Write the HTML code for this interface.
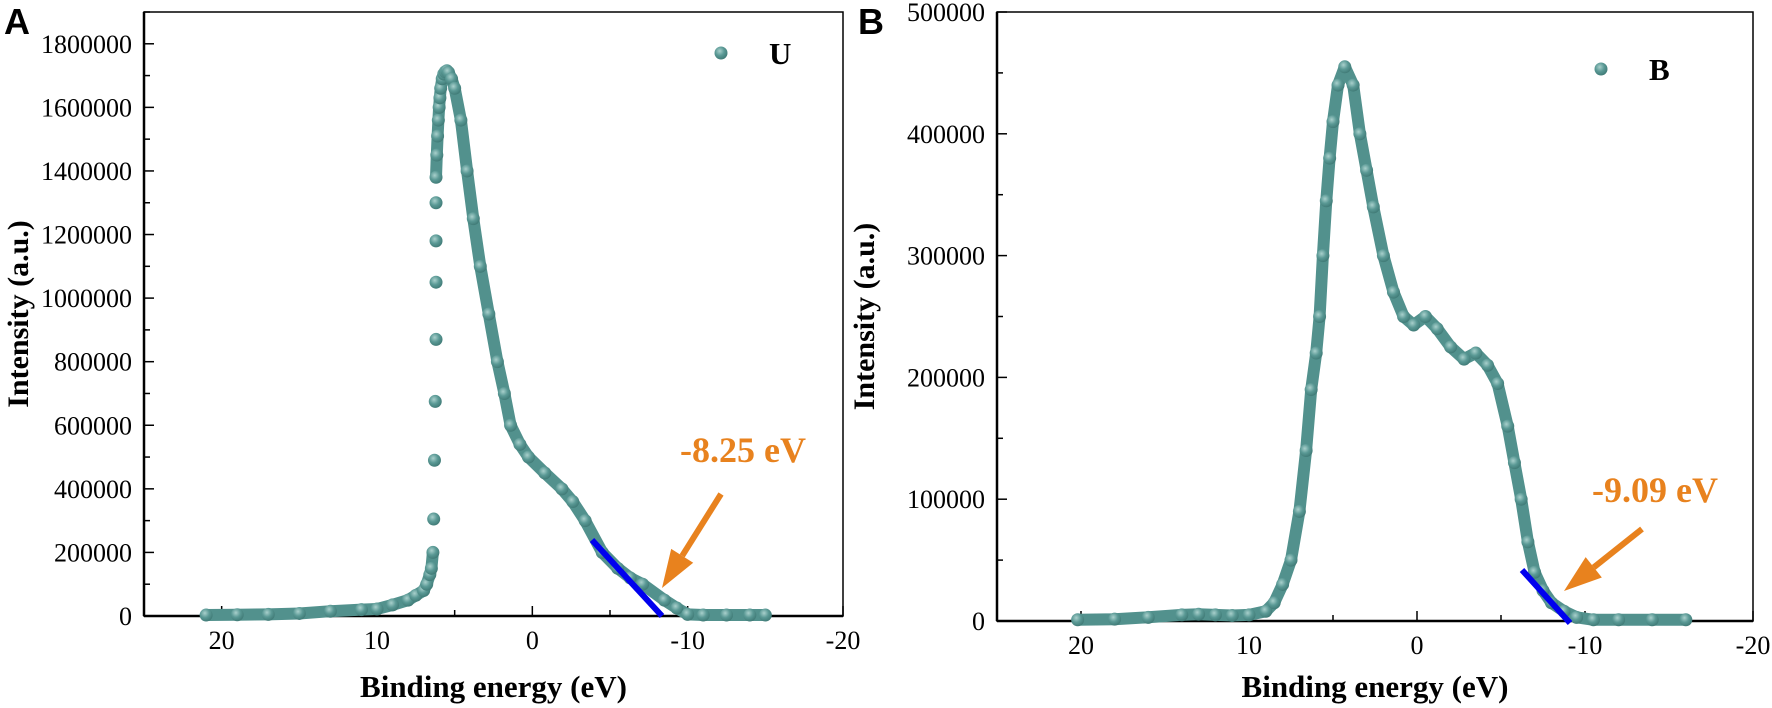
<!DOCTYPE html>
<html><head><meta charset="utf-8"><style>
body{margin:0;background:#fff;}
svg{display:block;font-family:"Liberation Serif",serif;}
</style></head><body>
<svg id="s" width="1772" height="708" viewBox="0 0 1772 708">
<defs><radialGradient id="g" cx="0.4" cy="0.35" r="0.7"><stop offset="0" stop-color="#a9d0cc"/><stop offset="0.5" stop-color="#5a9995"/><stop offset="1" stop-color="#3d7773"/></radialGradient></defs>
</svg>
<script>
// Panel A data
const aEnergy=[21,19,17,15,13,11,10,9,8,7.5,7,6.8,6.6,6.5,6.4,6.35,6.3,6.25,6.2,6.2,6.2,6.2,6.2,6.15,6.1,6.05,6.0,5.95,5.9,5.8,5.7,5.6,5.5,5.4,5.2,5.0,4.6,4.2,3.8,3.35,2.8,2.25,1.8,1.4,0.8,0.25,-0.8,-1.9,-2.6,-3.4,-4.5,-5.5,-6.3,-7.1,-8.5,-9.3,-10,-11,-12.5,-14,-15];
const aIntensity=[3000,4000,5000,8000,15000,20000,22000,35000,50000,65000,80000,100000,130000,150000,200000,305000,490000,675000,870000,1050000,1180000,1300000,1380000,1450000,1510000,1560000,1600000,1630000,1660000,1690000,1705000,1712000,1715000,1710000,1690000,1660000,1560000,1400000,1250000,1100000,950000,800000,700000,600000,540000,500000,450000,400000,360000,300000,200000,150000,120000,100000,50000,25000,5000,3000,3000,3000,3000];
// Panel B data
const bEnergy=[20.2,18,16,14,13,12,11,10,9,8.5,8,7.5,7,6.6,6.3,6,5.8,5.6,5.4,5.2,5,4.7,4.3,3.8,3.4,3.0,2.6,2.0,1.4,0.8,0.2,-0.5,-1.2,-2,-2.8,-3.5,-4.2,-4.8,-5.4,-5.8,-6.2,-6.6,-7,-7.5,-8,-8.75,-9.5,-10.5,-12,-14,-16];
const bIntensity=[1000,1500,3000,5000,5500,5000,4500,5000,8000,15000,30000,50000,90000,140000,190000,220000,250000,300000,345000,380000,410000,440000,455000,440000,400000,370000,340000,300000,270000,250000,243000,250000,240000,225000,215000,220000,210000,195000,160000,130000,100000,65000,40000,25000,15000,8000,3000,1000,1000,1000,1000];
const aYTicks=[0,200000,400000,600000,800000,1000000,1200000,1400000,1600000,1800000];
const bYTicks=[0,100000,200000,300000,400000,500000];
const xTicks=[20,10,0,-10,-20];

const svg=document.getElementById('s');
const NS='http://www.w3.org/2000/svg';
function mk(tag,attrs,parent){const e=document.createElementNS(NS,tag);for(const k in attrs)e.setAttribute(k,attrs[k]);(parent||svg).appendChild(e);return e;}

function panel(p){
  const g=mk('g',{});
  
  
  const xs=v=>p.x0+(25-v)/45*(p.x1-p.x0);
  const ys=v=>p.y1-v/p.ymax*(p.y1-p.y0);
  const fr=mk('rect',{x:p.x0,y:p.y0,width:p.x1-p.x0,height:p.y1-p.y0,fill:'none',stroke:'#000','stroke-width':1.5},g);
  
  
  mk('line',{x1:p.x0,y1:p.y0,x2:p.x0,y2:p.y1,stroke:'#000','stroke-width':2.5},g);
  mk('line',{x1:p.x0,y1:p.y1,x2:p.x1,y2:p.y1,stroke:'#000','stroke-width':2.5},g);
  for(let v=25;v>=-20;v-=5){const X=xs(v);const major=v%10===0;mk('line',{x1:X,y1:p.y1,x2:X,y2:p.y1-(major?10:6),stroke:'#000','stroke-width':1.5},g);}
  xTicks.forEach(v=>{const t=mk('text',{x:xs(v),y:p.y1+33,'text-anchor':'middle','font-size':26},g);t.textContent=v;
    
    });
  const step=p.yt[1]-p.yt[0];
  for(let v=0;v<=p.ymax+1;v+=step/2){const Y=ys(v);const major=Math.abs(v/step-Math.round(v/step))<1e-6;mk('line',{x1:p.x0,y1:Y,x2:p.x0+(major?10:6),y2:Y,stroke:'#000','stroke-width':1.5},g);}
  p.yt.forEach(v=>{const t=mk('text',{x:p.x0-12,y:ys(v)+9,'text-anchor':'end','font-size':26},g);t.textContent=v;
    
    });
  const xt=mk('text',{x:(p.x0+p.x1)/2,y:697,'text-anchor':'middle','font-size':31,'font-weight':'bold'},g);xt.textContent='Binding energy (eV)';
  
  
  const yt=mk('text',{x:0,y:0,'text-anchor':'middle','font-size':30,'font-weight':'bold',transform:`translate(${p.ytx},${(p.y0+p.y1)/2}) rotate(-90)`},g);yt.textContent='Intensity (a.u.)';
  
  
  const lab=mk('text',{x:p.labx,y:34,'font-size':36,'font-weight':'bold','font-family':'Liberation Sans, sans-serif'},g);lab.textContent=p.label;
  
  
  // series band: break only in the steep sparse region (near-vertical big jumps)
  let seg=[];const segs=[];
  p.ex.forEach((e,i)=>{const X=xs(e),Y=ys(p.iy[i]);
    if(seg.length){const [px,py]=seg[seg.length-1];if(Math.abs(X-px)<3&&Math.hypot(X-px,Y-py)>25){segs.push(seg);seg=[];}}
    seg.push([X,Y]);});
  segs.push(seg);
  segs.forEach(s=>{if(s.length<2)return;
    const band=mk('polyline',{points:s.map(q=>q[0].toFixed(1)+','+q[1].toFixed(1)).join(' '),fill:'none',stroke:'#52918d','stroke-width':12,'stroke-linejoin':'round','stroke-linecap':'round'},g);
    
    });
  p.ex.forEach((e,i)=>{const c=mk('circle',{cx:xs(e),cy:ys(p.iy[i]),r:6.5,fill:'url(#g)'},g);
    
    });
  const lm=mk('circle',{cx:p.legx,cy:p.legy,r:6.5,fill:'url(#g)'},g);
  
  
  const lt=mk('text',{x:p.legx+48,y:p.legy+11,'font-size':31,'font-weight':'bold'},g);lt.textContent=p.legend;
  
  
  const bl=mk('line',{x1:p.bl[0],y1:p.bl[1],x2:p.bl[2],y2:p.bl[3],stroke:'#0000ee','stroke-width':6},g);
  
  
  const [ax,ay,tx,ty]=p.ar;const dx=tx-ax,dy=ty-ay,L=Math.hypot(dx,dy),ux=dx/L,uy=dy/L,nx=-uy,ny=ux;
  const hb=[tx-ux*38,ty-uy*38];
  mk('line',{x1:ax,y1:ay,x2:hb[0],y2:hb[1],stroke:'#e8821e','stroke-width':6},g);
  const ah=mk('polygon',{points:`${tx},${ty} ${hb[0]+nx*13},${hb[1]+ny*13} ${hb[0]-nx*13},${hb[1]-ny*13}`,fill:'#e8821e'},g);
  
  
  const an=mk('text',{x:p.anx,y:p.any,'font-size':36,'font-weight':'bold',fill:'#e8821e'},g);an.textContent=p.ann;
  
  
}
panel({id:'a',x0:144,x1:843,y0:12,y1:616,ymax:1900000,yt:aYTicks,ex:aEnergy,iy:aIntensity,ytx:28,labx:4,label:'A',legx:721,legy:53,legend:'U',bl:[592,540,662,616],ar:[721,494,662,588],anx:680,any:462,ann:'-8.25 eV'});
panel({id:'b',x0:997,x1:1753,y0:12,y1:621,ymax:500000,yt:bYTicks,ex:bEnergy,iy:bIntensity,ytx:874,labx:858,label:'B',legx:1601,legy:69,legend:'B',bl:[1522,570,1570,623],ar:[1642,529,1564,591],anx:1592,any:502,ann:'-9.09 eV'});
</script>
</body></html>
